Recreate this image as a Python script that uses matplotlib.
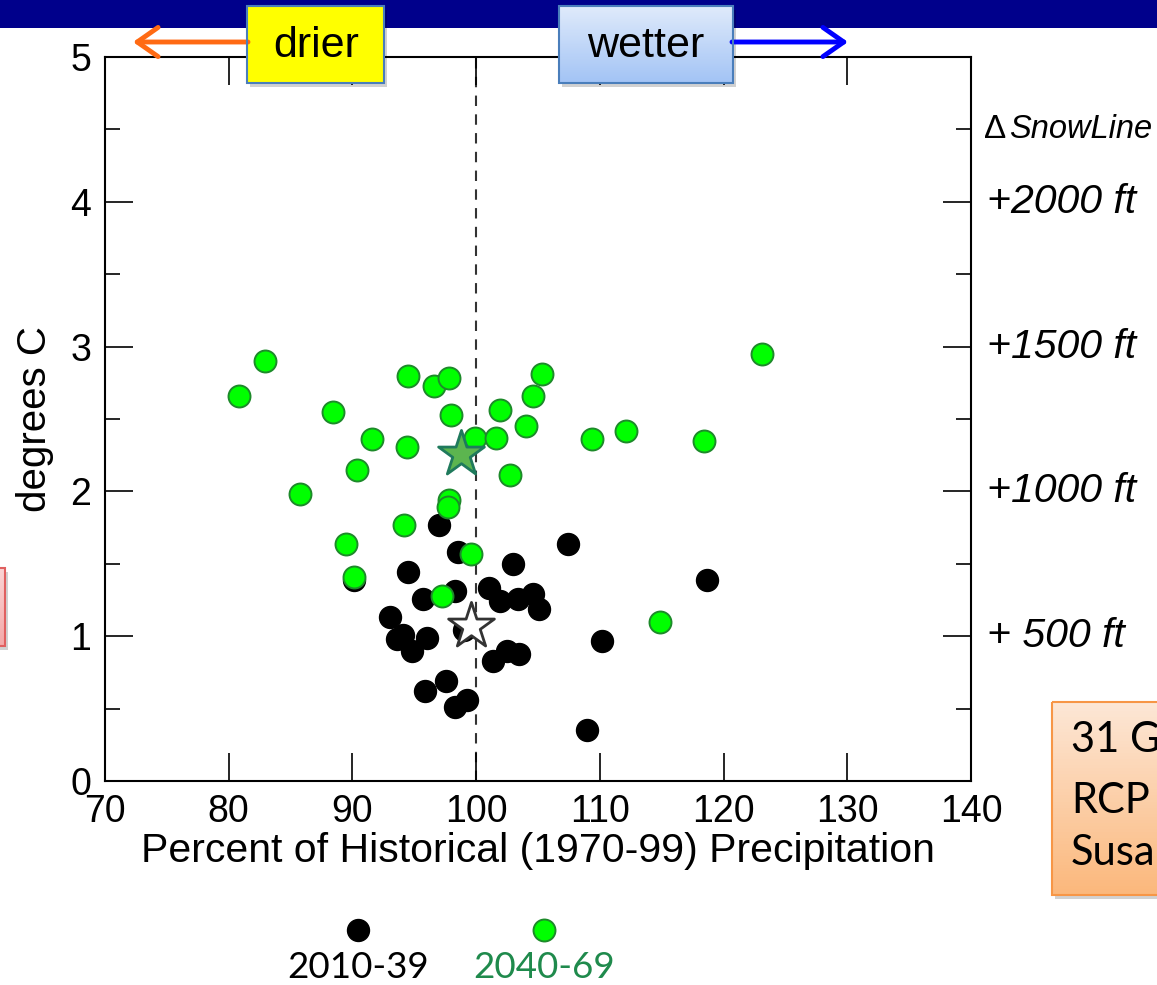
import numpy as np
import matplotlib
matplotlib.use('Agg')
import matplotlib.pyplot as plt
from matplotlib.patches import Rectangle
from matplotlib.colors import LinearSegmentedColormap
from matplotlib.ticker import MultipleLocator
import matplotlib.transforms as mtransforms

plt.rcParams['font.family'] = ['Liberation Sans', 'DejaVu Sans']

# ---- data ----
x_2010 = [97.0, 98.5, 107.4, 94.5, 103.0, 101.0, 98.3, 95.7, 101.9, 103.4, 104.6, 105.1,
          118.7, 93.0, 90.1, 93.6, 94.1, 96.0, 94.8, 99.0, 101.4, 102.5, 103.5, 110.2,
          95.9, 97.6, 98.3, 99.3, 109.0]
y_2010 = [1.77, 1.58, 1.64, 1.44, 1.50, 1.33, 1.31, 1.26, 1.24, 1.26, 1.29, 1.19,
          1.39, 1.13, 1.39, 0.98, 1.01, 0.99, 0.90, 1.04, 0.83, 0.90, 0.88, 0.97,
          0.62, 0.69, 0.51, 0.56, 0.35]
x_2040 = [82.9, 80.8, 94.5, 96.6, 97.8, 105.3, 104.6, 88.4, 98.0, 101.9, 104.0, 91.6,
          94.4, 99.9, 101.6, 109.4, 90.4, 102.7, 85.8, 97.8, 97.7, 94.2, 89.5, 99.6,
          90.1, 97.2, 123.1, 112.1, 118.4, 114.9]
y_2040 = [2.90, 2.66, 2.80, 2.73, 2.78, 2.81, 2.66, 2.55, 2.53, 2.56, 2.45, 2.36,
          2.31, 2.37, 2.37, 2.36, 2.15, 2.11, 1.98, 1.94, 1.89, 1.77, 1.64, 1.57,
          1.41, 1.28, 2.95, 2.42, 2.35, 1.10]
mean_2010 = (99.6, 1.07)
mean_2040 = (98.8, 2.26)

snow_pos = [4.5, 4, 3, 2, 1]
snow_labels = ['SnowLine', '+2000 ft', '+1500 ft', '+1000 ft', '+ 500 ft']
legend_labels = ['2010-39', '2040-69']

W, H = 1157, 985
fig = plt.figure(figsize=(W / 100, H / 100), dpi=100)
ax = fig.add_axes([105 / W, 1 - 781 / H, 866 / W, 724 / H])

ax.axvline(100, color='#333333', lw=1.5, ls=(0, (5, 4)), zorder=1)
ax.scatter(x_2010, y_2010, s=250, c='black', edgecolors='black', linewidths=1, zorder=3)
ax.scatter(x_2040, y_2040, s=250, c='#00ff00', edgecolors='#1d8a2a', linewidths=1.4, zorder=4)
ax.scatter(*mean_2010, s=1200, marker='*', c='white', edgecolors='#333333', linewidths=2, zorder=5)
ax.scatter(*mean_2040, s=1200, marker='*', c='#5cb54f', edgecolors='#1f7a5c', linewidths=2, zorder=5)

ax.set_xlim(70, 140)
ax.set_ylim(0, 5)
ax.xaxis.set_major_locator(MultipleLocator(10))
ax.yaxis.set_major_locator(MultipleLocator(1))
ax.yaxis.set_minor_locator(MultipleLocator(0.5))
ax.tick_params(which='both', direction='in', top=True, right=True, width=1.2, labelsize=27)
ax.tick_params(which='major', length=20)
ax.tick_params(which='minor', length=11)
ax.tick_params(axis='x', pad=9)
ax.tick_params(axis='y', pad=10)
for sp in ax.spines.values():
    sp.set_linewidth(1.5)
ax.set_xlabel('Percent of Historical (1970-99) Precipitation', fontsize=29.5, labelpad=2)
ax.set_ylabel('degrees C', fontsize=29, labelpad=12)

# right-hand snow line labels
tr = mtransforms.blended_transform_factory(ax.transAxes, ax.transData)
ax.text(1.015, snow_pos[0], '\u0394', transform=tr, fontsize=24, va='center', ha='left')
ax.text(1.044, snow_pos[0], snow_labels[0], transform=tr, fontsize=23.5, style='italic',
        va='center', ha='left', clip_on=False)
for yv, lab in zip(snow_pos[1:], snow_labels[1:]):
    ax.text(1.018, yv, lab, transform=tr, fontsize=29.5, style='italic', va='center', ha='left')

# ---- overlay in pixel coords for slide decorations ----
ov = fig.add_axes([0, 0, 1, 1], zorder=10)
ov.patch.set_visible(False)
ov.axis('off')
ov.set_autoscale_on(False)
ov.set_xlim(0, W)
ov.set_ylim(H, 0)

ov.add_patch(Rectangle((0, 0), W, 28, color='#00008b', lw=0))


def grad_box(x0, y0, x1, y1, c_top, c_bot, edge, lw=1.5):
    ov.add_patch(Rectangle((x0 + 3, y0 + 4), x1 - x0, y1 - y0, color='black', alpha=0.18, lw=0))
    cmap = LinearSegmentedColormap.from_list('g', [c_top, c_bot])
    ov.imshow(np.linspace(0, 1, 64).reshape(-1, 1), cmap=cmap, extent=(x0, x1, y1, y0),
              aspect='auto', origin='upper', zorder=2)
    ov.add_patch(Rectangle((x0, y0), x1 - x0, y1 - y0, fill=False, edgecolor=edge, lw=lw, zorder=3))


# arrows
ov.annotate('', xy=(133, 42), xytext=(248, 42),
            arrowprops=dict(arrowstyle='->,head_length=0.5,head_width=0.35', color='#ff6a13',
                            lw=3.5, mutation_scale=30, shrinkA=0, shrinkB=0))
ov.annotate('', xy=(848, 42), xytext=(732, 42),
            arrowprops=dict(arrowstyle='->,head_length=0.5,head_width=0.35', color='#0000ff',
                            lw=3.5, mutation_scale=30, shrinkA=0, shrinkB=0))

grad_box(247, 6, 384, 83, '#ffff00', '#ffff00', '#4a7ebb')
ov.text(316, 46, 'drier', fontsize=31, ha='center', va='center', zorder=4)
grad_box(559, 6, 733, 83, '#dfeafb', '#a3c4f5', '#4a7ebb')
ov.text(646, 46, 'wetter', fontsize=31, ha='center', va='center', zorder=4)

# partial boxes at the slide edges
grad_box(-20, 568, 5, 646, '#fbd5d5', '#f4a9a9', '#e06060')
grad_box(1052, 702, 1175, 895, '#fde7d6', '#fbb87c', '#f79646')
for yv, t in zip([740, 801, 853], ['31 G', 'RCP', 'Susa']):
    ov.text(1071, yv, t, fontsize=30, family=['Lato', 'DejaVu Sans'], ha='left', va='center', zorder=4)

# legend below the plot
ov.scatter([358], [930], s=250, c='black', zorder=4)
ov.scatter([544], [930], s=250, c='#00ff00', edgecolors='#1d8a2a', linewidths=1.4, zorder=4)
ov.text(358, 968, legend_labels[0], fontsize=26.5, family=['Lato', 'DejaVu Sans'],
        ha='center', va='center', color='black')
ov.text(544, 968, legend_labels[1], fontsize=26.5, family=['Lato', 'DejaVu Sans'],
        ha='center', va='center', color='#1f8a4c')

fig.savefig('out.png', dpi=100)
